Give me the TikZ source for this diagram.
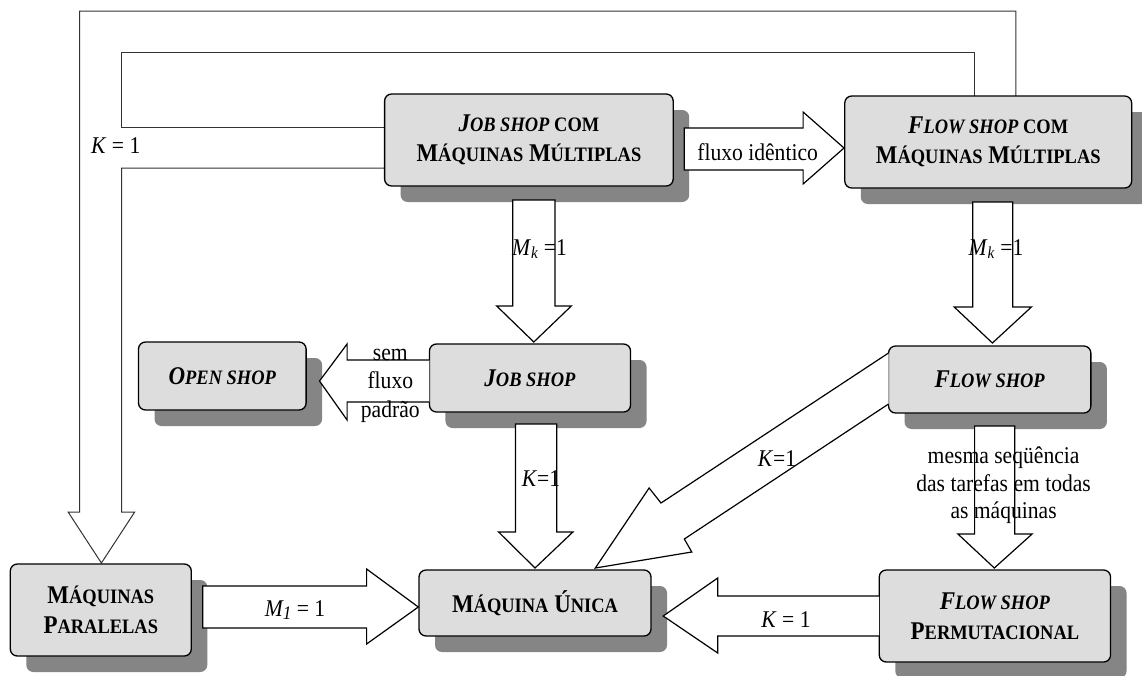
\documentclass[tikz,border=0pt]{standalone}
\usepackage{fontspec}
\setmainfont{Liberation Serif}[FakeStretch=0.9]
\usetikzlibrary{shadows}
\definecolor{boxgray}{HTML}{DDDDDD}
\definecolor{shadowgray}{HTML}{858585}
\newcommand\sml[1]{{\fontsize{20.5}{30}\selectfont #1}}
\tikzset{
  box/.style={draw=black, line width=1.3pt, fill=boxgray, rounded corners=7pt,
    align=center, inner sep=0pt, font=\bfseries\fontsize{25.5}{30}\selectfont,
    drop shadow={shadow xshift=16pt, shadow yshift=-16pt, fill=shadowgray, opacity=1}},
  blk/.style={draw=black, line width=1.2pt, fill=white, line join=miter},
  loopline/.style={draw=black!80, line width=1pt, line join=miter},
  lbl/.style={font=\fontsize{24}{28}\selectfont, inner sep=0pt, anchor=base}
}
\begin{document}
\begin{tikzpicture}[x=1pt,y=-1pt]
\useasboundingbox[fill=white] (0,0) rectangle (1142,675);

% big loop arrow (K = 1)
\draw[loopline] (974.6,96) -- (974.6,52) -- (121.7,52) -- (121.7,127) -- (384.6,127);
\draw[loopline] (384.6,168) -- (121.7,168) -- (121.7,512) -- (134.7,512) -- (101.4,563)
   -- (68.1,512) -- (79.6,512) -- (79.6,11) -- (1015.8,11) -- (1015.8,96);

% boxes
\node[box, minimum width=288.6pt, minimum height=92pt] (jsmm) at (528.9,140)
  {\textit{J\sml{OB SHOP}}\sml{ COM}\\M\sml{ÁQUINAS} M\sml{ÚLTIPLAS}};
\node[box, minimum width=286.9pt, minimum height=92pt] (fsmm) at (988.2,142)
  {\textit{F\sml{LOW SHOP}}\sml{ COM}\\M\sml{ÁQUINAS} M\sml{ÚLTIPLAS}};
\node[box, minimum width=167.6pt, minimum height=68pt] (os) at (222.3,376)
  {\textit{O\sml{PEN SHOP}}};
\node[box, minimum width=201.1pt, minimum height=68pt] (js) at (530,378)
  {\textit{J\sml{OB SHOP}}};
\node[box, minimum width=202.3pt, minimum height=67pt] (fs) at (989.7,379.5)
  {\textit{F\sml{LOW SHOP}}};
\node[box, minimum width=181pt, minimum height=92pt] (mp) at (100.8,610)
  {M\sml{ÁQUINAS}\\P\sml{ARALELAS}};
\node[box, minimum width=232pt, minimum height=66pt] (mu) at (535,603)
  {M\sml{ÁQUINA} Ú\sml{NICA}};
\node[box, minimum width=231.3pt, minimum height=92pt] (fsp) at (994.9,616)
  {\textit{F\sml{LOW SHOP}}\\P\sml{ERMUTACIONAL}};

% block arrows
\draw[blk] (684.3,128) -- (803.1,128) -- (803.1,112) -- (844,148) -- (803.1,184)
   -- (803.1,170) -- (684.3,170) -- cycle;
\draw[blk] (512.8,200) -- (554.9,200) -- (554.9,306) -- (571.3,306) -- (533.8,342)
   -- (496.7,306) -- (512.8,306) -- cycle;
\draw[blk] (972.7,202) -- (1012.8,202) -- (1012.8,307) -- (1031.4,307) -- (992.4,343)
   -- (954.2,307) -- (972.7,307) -- cycle;
\draw[blk] (429.4,360) -- (347.1,360) -- (347.1,344) -- (319.5,381) -- (347.1,420)
   -- (347.1,402) -- (429.4,402);
\draw[blk] (515.5,424) -- (556.8,424) -- (556.8,532) -- (572.9,532) -- (535,568)
   -- (498.6,532) -- (515.5,532) -- cycle;
\draw[blk] (974.6,426) -- (1014.7,426) -- (1014.7,534) -- (1032.1,534) -- (994.3,568)
   -- (957.9,534) -- (974.6,534) -- cycle;
\draw[blk] (202.8,586) -- (366.6,586) -- (366.6,569) -- (418.3,607) -- (366.6,644)
   -- (366.6,628) -- (202.8,628) -- cycle;
\draw[blk] (879.2,596) -- (717.7,596) -- (717.7,578) -- (663.2,616) -- (717.7,653)
   -- (717.7,636) -- (879.2,636);
\draw[blk] (888.5,353) -- (661,503) -- (649.1,488) -- (595.3,568) -- (691.8,552)
   -- (684.3,539) -- (888.5,404);

% labels
\node[lbl] (l1) at (757.6,160) {fluxo idêntico};
\node[lbl] (l2) at (539.5,255) {\textit{M}\textsubscript{\textit{k}} =1};
\node[lbl] (l3) at (996,255) {\textit{M}\textsubscript{\textit{k}} =1};
\node[lbl] (l4) at (115.8,153) {\textit{K} = 1};
\node[lbl] (l5a) at (390.3,360) {sem};
\node[lbl] (l5b) at (390.3,388) {fluxo};
\node[lbl] (l5c) at (390.3,417) {padrão};
\node[lbl] (l6) at (541,486) {\textit{K}=1};
\node[lbl] (l7) at (295,616) {\textit{M\raisebox{-3pt}{\fontsize{19}{19}\selectfont 1}} = 1};
\node[lbl] (l8) at (777,466) {\textit{K}=1};
\node[lbl] (l9a) at (1003.6,463) {mesma seqüência};
\node[lbl] (l9b) at (1003.6,491) {das tarefas em todas};
\node[lbl] (l9c) at (1003.6,518) {as máquinas};
\node[lbl] (l10) at (786,627) {\textit{K} = 1};
\end{tikzpicture}
\end{document}
